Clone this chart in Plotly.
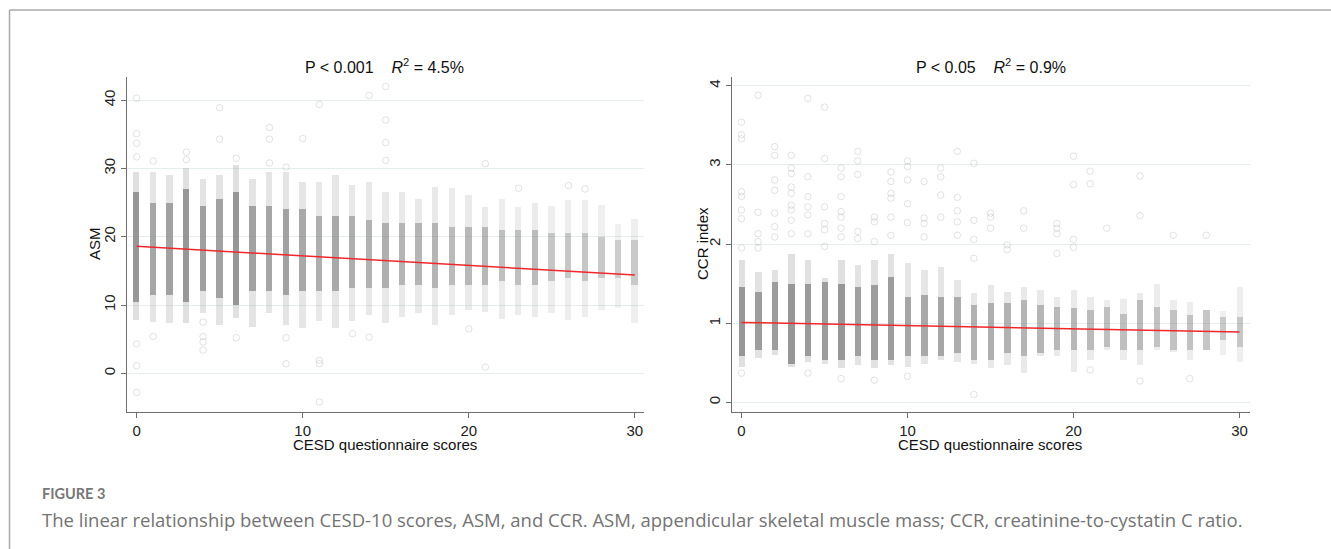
import plotly.graph_objects as go

# ---------------- data ----------------
scores = list(range(31))

# ASM panel: light (full) extent, dense core extent, relative density per score
asm_lo = [7.8, 7.5, 7.3, 7.3, 8.8, 7.1, 8.1, 6.8, 8.8, 7.1, 6.6, 7.6, 6.6, 7.7, 8.5, 7.4,
          8.3, 8.8, 7.1, 8.5, 9.3, 9.0, 8.0, 8.5, 8.3, 8.8, 7.8, 8.3, 9.3, 9.5, 7.3]
asm_hi = [29.5, 29.5, 29.0, 30.0, 28.5, 29.0, 30.5, 28.5, 29.5, 29.5, 28.0, 28.0, 29.0, 27.6, 28.0, 26.6,
          26.6, 25.6, 27.3, 27.1, 26.1, 24.4, 25.6, 24.4, 24.9, 24.5, 25.4, 25.4, 24.6, 21.9, 22.6]
asm_core_lo = [10.5, 11.5, 11.5, 10.5, 12.0, 11.0, 10.0, 12.0, 12.0, 11.5, 12.0, 12.0, 12.0, 12.5, 12.5, 12.5,
               13.0, 13.0, 12.5, 13.0, 13.0, 13.0, 13.5, 13.0, 13.0, 13.5, 14.0, 13.5, 14.0, 14.0, 13.0]
asm_core_hi = [26.5, 25.0, 25.0, 27.0, 24.5, 25.5, 26.5, 24.5, 24.5, 24.0, 24.0, 23.0, 23.0, 23.0, 22.5, 22.0,
               22.0, 22.0, 22.0, 21.5, 21.5, 21.5, 21.0, 21.0, 21.0, 20.5, 20.5, 20.5, 20.0, 19.5, 19.5]
asm_density = [1.0, 0.75, 0.8, 1.0, 0.85, 0.8, 1.0, 0.8, 0.75, 0.8, 0.7, 0.6, 0.7, 0.6, 0.55, 0.6,
               0.5, 0.5, 0.5, 0.4, 0.45, 0.45, 0.35, 0.35, 0.4, 0.25, 0.25, 0.25, 0.2, 0.15, 0.2]
asm_out_x = [0, 0, 0, 0, 0, 0, 0, 1, 1, 3, 3, 4, 4, 4, 4, 5, 5, 6, 6, 8, 8, 8, 9, 9, 9, 10,
             11, 11, 11, 11, 13, 14, 14, 15, 15, 15, 15, 20, 21, 21, 23, 26, 27]
asm_out_y = [40.3, 35.1, 33.7, 31.7, 4.3, 1.1, -2.8, 31.1, 5.4, 32.4, 31.3, 7.5, 5.4, 4.6, 3.4, 38.9, 34.3, 31.5, 5.2,
             36.0, 34.3, 30.8, 30.2, 5.2, 1.4, 34.4,
             39.4, 1.9, 1.4, -4.2, 5.8, 40.7, 5.3, 42.0, 37.1, 33.8, 31.2, 6.5, 30.7, 0.9, 27.1, 27.5, 27.0]
asm_fit_x = [0, 30]
asm_fit_y = [18.6, 14.4]

# CCR panel
ccr_lo = [0.45, 0.56, 0.60, 0.45, 0.51, 0.49, 0.43, 0.47, 0.43, 0.47, 0.45, 0.49, 0.54, 0.51, 0.49, 0.43,
          0.47, 0.37, 0.58, 0.58, 0.39, 0.54, 0.66, 0.54, 0.47, 0.66, 0.64, 0.54, 0.66, 0.60, 0.51]
ccr_hi = [1.80, 1.65, 1.67, 1.88, 1.80, 1.57, 1.80, 1.73, 1.80, 1.88, 1.76, 1.67, 1.71, 1.55, 1.38, 1.48,
          1.40, 1.46, 1.42, 1.33, 1.42, 1.33, 1.29, 1.31, 1.38, 1.50, 1.29, 1.27, 1.17, 1.15, 1.46]
ccr_core_lo = [0.58, 0.66, 0.66, 0.49, 0.58, 0.54, 0.54, 0.58, 0.54, 0.54, 0.58, 0.58, 0.58, 0.62, 0.54, 0.54,
               0.62, 0.58, 0.62, 0.66, 0.66, 0.66, 0.70, 0.66, 0.66, 0.70, 0.66, 0.66, 0.66, 0.79, 0.70]
ccr_core_hi = [1.46, 1.40, 1.52, 1.50, 1.50, 1.52, 1.50, 1.46, 1.48, 1.59, 1.33, 1.36, 1.33, 1.33, 1.23, 1.25,
               1.25, 1.29, 1.23, 1.21, 1.19, 1.17, 1.21, 1.12, 1.29, 1.21, 1.17, 1.10, 1.17, 1.08, 1.08]
ccr_density = [1.0, 0.9, 0.9, 1.0, 0.95, 0.9, 1.0, 0.85, 0.9, 0.9, 0.75, 0.7, 0.75, 0.65, 0.55, 0.6,
               0.55, 0.5, 0.5, 0.45, 0.45, 0.4, 0.35, 0.35, 0.4, 0.3, 0.3, 0.3, 0.25, 0.2, 0.25]
ccr_out_x = [0, 0, 0, 0, 0, 0, 0, 0, 0, 1, 1, 1, 1, 1, 2, 2, 2, 2, 2, 2, 2, 3, 3, 3, 3, 3, 3, 3, 3, 3,
             4, 4, 4, 4, 4, 4, 4, 5, 5, 5, 5, 5, 5, 6, 6, 6, 6, 6, 6, 6, 6, 7, 7, 7, 7, 7, 8, 8, 8, 8,
             9, 9, 9, 9, 9, 9, 10, 10, 10, 10, 10, 10, 11, 11, 11, 11, 12, 12, 12, 12, 13, 13, 13, 13, 13,
             14, 14, 14, 14, 14, 15, 15, 15, 16, 16, 17, 17, 19, 19, 19, 19, 20, 20, 20, 20, 21, 21, 21,
             22, 24, 24, 24, 26, 27, 28]
ccr_out_y = [3.54, 3.38, 3.33, 2.66, 2.60, 2.43, 2.32, 1.95, 0.37, 3.88, 2.40, 2.13, 2.03, 1.95,
             3.23, 3.12, 2.81, 2.68, 2.39, 2.22, 2.09,
             3.12, 2.96, 2.89, 2.72, 2.64, 2.49, 2.43, 2.30, 2.13,
             3.84, 2.85, 2.60, 2.47, 2.37, 2.13, 0.37,
             3.73, 3.08, 2.47, 2.26, 2.18, 1.97,
             2.96, 2.85, 2.60, 2.41, 2.34, 2.20, 2.09, 0.30,
             3.17, 3.05, 2.88, 2.16, 2.07,
             2.34, 2.28, 2.03, 0.28,
             2.91, 2.79, 2.64, 2.58, 2.34, 2.11,
             3.05, 2.98, 2.81, 2.51, 2.27, 0.33,
             2.79, 2.33, 2.26, 2.09,
             2.96, 2.85, 2.62, 2.34,
             3.17, 2.59, 2.42, 2.28, 2.11,
             3.02, 2.30, 2.06, 1.82, 0.10,
             2.39, 2.34, 2.20,
             1.99, 1.93,
             2.42, 2.20,
             2.26, 2.20, 2.13, 1.88,
             3.11, 2.75, 2.06, 1.96,
             2.92, 2.76, 0.41,
             2.20,
             2.86, 2.36, 0.27,
             2.11, 0.30, 2.11]
ccr_fit_x = [0, 30]
ccr_fit_y = [1.01, 0.89]

panel_titles = ["P &lt; 0.001\u00a0\u00a0\u00a0\u00a0<i>R</i><sup>2</sup> = 4.5%",
                "P &lt; 0.05\u00a0\u00a0\u00a0\u00a0<i>R</i><sup>2</sup> = 0.9%"]
y_titles = ["ASM", "CCR index"]
x_title = "CESD questionnaire scores"
x_ticks = [0, 10, 20, 30]
asm_ticks = [0, 10, 20, 30, 40]
ccr_ticks = [0, 1, 2, 3, 4]
caption_label = "FIGURE 3"
caption_text = ("The linear relationship between CESD-10 scores, ASM, and CCR. ASM, appendicular "
                "skeletal muscle mass; CCR, creatinine-to-cystatin C ratio.")

# ---------------- figure ----------------
W, H = 1331, 549
fig = go.Figure()

BAR_W = 0.38


def add_panel(xa, ya, lo, hi, clo, chi, dens, ox, oy, fx, fy):
    light_cols = [f"rgba(165,165,165,{0.14 + 0.2 * d:.3f})" for d in dens]
    core_cols = [f"rgba(120,120,120,{0.22 + 0.48 * d:.3f})" for d in dens]
    fig.add_trace(go.Bar(x=scores, y=[h - l for h, l in zip(hi, lo)], base=lo, width=BAR_W,
                         marker=dict(color=light_cols, line=dict(width=0)),
                         xaxis=xa, yaxis=ya, showlegend=False, hoverinfo="skip"))
    fig.add_trace(go.Bar(x=scores, y=[h - l for h, l in zip(chi, clo)], base=clo, width=BAR_W,
                         marker=dict(color=core_cols, line=dict(width=0)),
                         xaxis=xa, yaxis=ya, showlegend=False, hoverinfo="skip"))
    fig.add_trace(go.Scatter(x=ox, y=oy, mode="markers", xaxis=xa, yaxis=ya,
                             marker=dict(symbol="circle-open", size=6.5, color="rgba(160,160,160,0.3)",
                                         line=dict(width=1)),
                             showlegend=False, hoverinfo="skip"))
    fig.add_trace(go.Scatter(x=fx, y=fy, mode="lines", xaxis=xa, yaxis=ya,
                             line=dict(color="#f0282c", width=1.5), showlegend=False))


add_panel("x", "y", asm_lo, asm_hi, asm_core_lo, asm_core_hi, asm_density,
          asm_out_x, asm_out_y, asm_fit_x, asm_fit_y)
add_panel("x2", "y2", ccr_lo, ccr_hi, ccr_core_lo, ccr_core_hi, ccr_density,
          ccr_out_x, ccr_out_y, ccr_fit_x, ccr_fit_y)

top_px, bot_px = 77, 411.5
ydom = [1 - bot_px / H, 1 - top_px / H]
L1, R1 = 127.3, 644.0
L2, R2 = 731.7, 1249.5

axis_common = dict(showline=True, linecolor="#6e6e6e", linewidth=1.3, ticks="outside", ticklen=5,
                   tickcolor="#6e6e6e", tickwidth=1.3, zeroline=False,
                   tickfont=dict(family="Liberation Sans, Arial", size=15, color="#222"))

fig.update_layout(
    width=W, height=H, margin=dict(l=0, r=0, t=0, b=0),
    paper_bgcolor="white", plot_bgcolor="white", barmode="overlay", bargap=0,
    xaxis=dict(domain=[L1 / W, R1 / W], range=[-0.56, 30.55], tickvals=x_ticks, showgrid=False,
               anchor="y", **axis_common),
    yaxis=dict(domain=ydom, range=[-5.6, 43.4], tickvals=asm_ticks, tickangle=-90, showgrid=True,
               gridcolor="#e5edef", gridwidth=1, anchor="x", **axis_common),
    xaxis2=dict(domain=[L2 / W, R2 / W], range=[-0.59, 30.6], tickvals=x_ticks, showgrid=False,
                anchor="y2", **axis_common),
    yaxis2=dict(domain=ydom, range=[-0.115, 4.11], tickvals=ccr_ticks, tickangle=-90, showgrid=True,
                gridcolor="#e5edef", gridwidth=1, anchor="x2", **axis_common),
    showlegend=False,
)

ann = []
title_font = dict(family="Liberation Sans, Arial", size=16, color="#111")
ann.append(dict(x=384 / W, y=1 - 66 / H, xref="paper", yref="paper", text=panel_titles[0],
                showarrow=False, font=title_font, xanchor="center", yanchor="middle"))
ann.append(dict(x=991 / W, y=1 - 66 / H, xref="paper", yref="paper", text=panel_titles[1],
                showarrow=False, font=title_font, xanchor="center", yanchor="middle"))
lab_font = dict(family="Liberation Sans, Arial", size=15, color="#111")
ann.append(dict(x=94 / W, y=1 - 244 / H, xref="paper", yref="paper", text=y_titles[0], textangle=-90,
                showarrow=False, font=lab_font, xanchor="center", yanchor="middle"))
ann.append(dict(x=702 / W, y=1 - 244 / H, xref="paper", yref="paper", text=y_titles[1], textangle=-90,
                showarrow=False, font=lab_font, xanchor="center", yanchor="middle"))
ann.append(dict(x=385 / W, y=1 - 444 / H, xref="paper", yref="paper", text=x_title,
                showarrow=False, font=lab_font, xanchor="center", yanchor="middle"))
ann.append(dict(x=990 / W, y=1 - 444 / H, xref="paper", yref="paper", text=x_title,
                showarrow=False, font=lab_font, xanchor="center", yanchor="middle"))
ann.append(dict(x=40 / W, y=1 - 493 / H, xref="paper", yref="paper", text=caption_label,
                showarrow=False, font=dict(family="Lato", size=14.5, color="#777777", weight=700),
                xanchor="left", yanchor="middle"))
ann.append(dict(x=40 / W, y=1 - 519 / H, xref="paper", yref="paper", text=caption_text,
                showarrow=False, font=dict(family="Open Sans", size=18.5, color="#737373"),
                xanchor="left", yanchor="middle"))
fig.update_layout(annotations=ann)

# page frame (top and left rule)
fig.add_shape(type="line", xref="paper", yref="paper", x0=9.5 / W, x1=1, y0=1 - 10 / H, y1=1 - 10 / H,
              line=dict(color="#a8a8a8", width=1.5))
fig.add_shape(type="line", xref="paper", yref="paper", x0=9.5 / W, x1=9.5 / W, y0=0, y1=1 - 10 / H,
              line=dict(color="#a8a8a8", width=1.5))

fig.write_html("out.html")
